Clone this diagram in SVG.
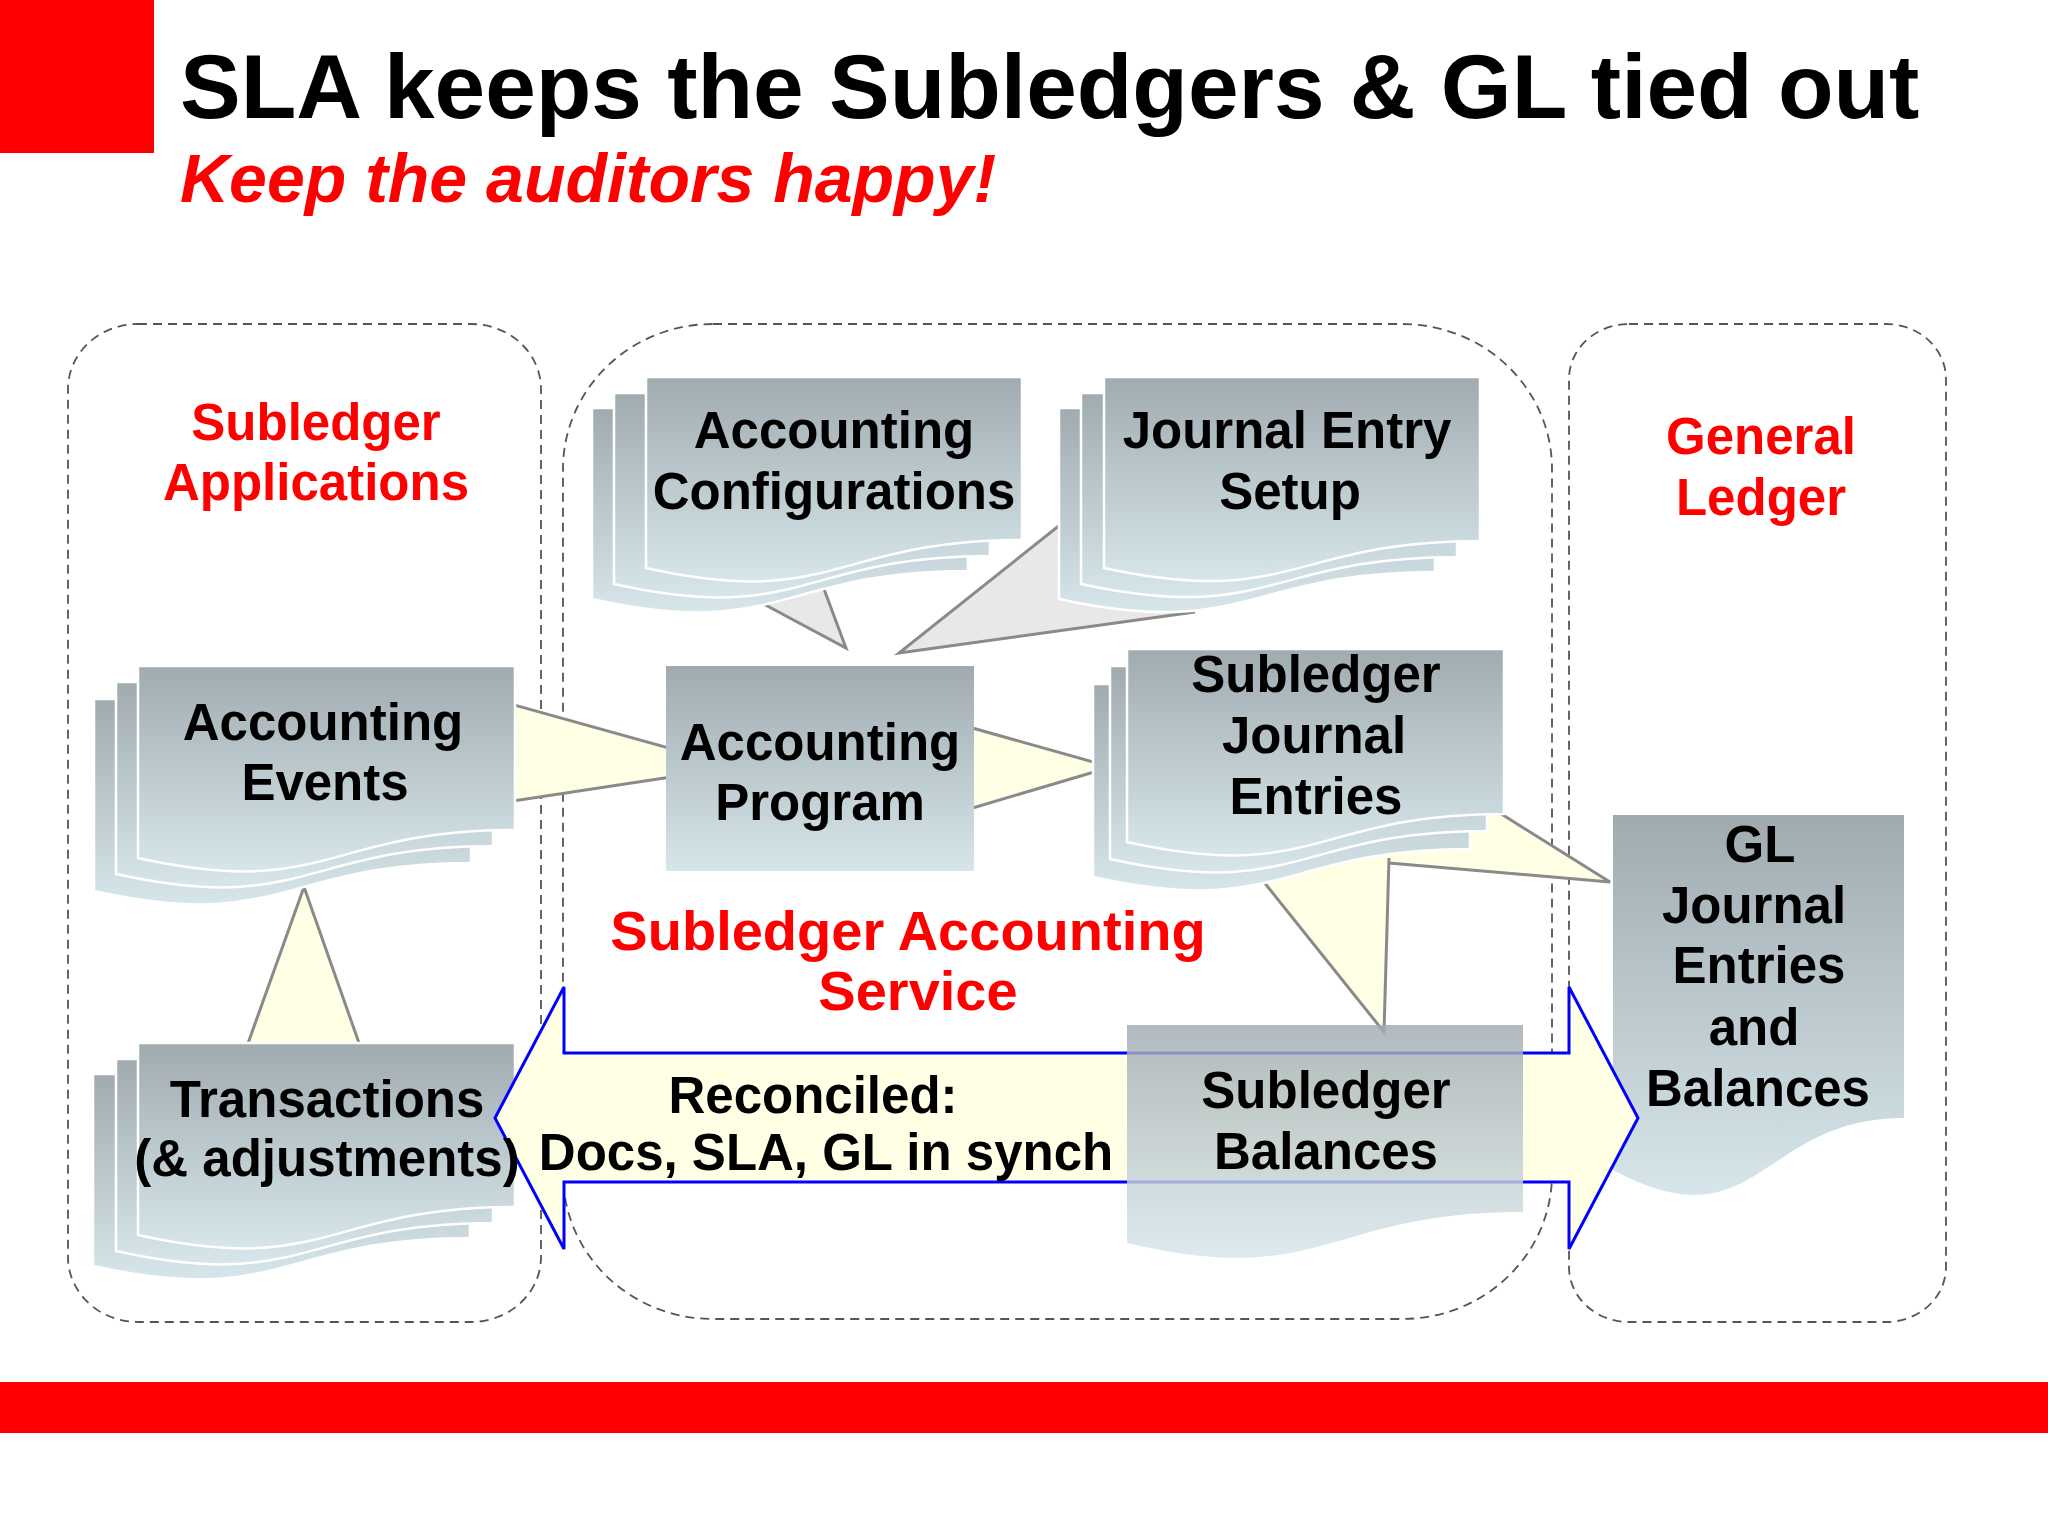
<svg xmlns="http://www.w3.org/2000/svg" width="2048" height="1536" viewBox="0 0 2048 1536">
<defs>
<linearGradient id="docGrad" x1="0" y1="0" x2="0" y2="1">
<stop offset="0" stop-color="#a0abb0"/>
<stop offset="1" stop-color="#d6e6ea"/>
</linearGradient>
<style>
.bg{fill:#ffffff}
.red{fill:#ff0000}
.title{font-family:"Liberation Sans",Arial,Helvetica,sans-serif;font-weight:bold;font-size:91px;fill:#000}
.sub{font-family:"Liberation Sans",Arial,Helvetica,sans-serif;font-weight:bold;font-style:italic;font-size:68px;fill:#ff0000}
.grp{fill:none;stroke:#555;stroke-width:1.8;stroke-dasharray:9 6}
.glab{font-family:"Liberation Sans",Arial,Helvetica,sans-serif;font-weight:bold;font-size:51px;fill:#ff0000;text-anchor:middle}
.lab{font-family:"Liberation Sans",Arial,Helvetica,sans-serif;font-weight:bold;font-size:51px;fill:#000;text-anchor:middle}
.doc{fill:url(#docGrad);stroke:#ffffff;stroke-width:2.5}
.box{fill:url(#docGrad)}
.yfill{fill:#ffffe6;stroke:none}
.gfill{fill:#e9e7ea;stroke:none}
.edge{fill:none;stroke:#8a8a8a;stroke-width:3;stroke-linejoin:miter}
.bigarrow{fill:#ffffe6;stroke:#0000ff;stroke-width:3}
</style>
</defs>
<rect class="bg" x="0" y="0" width="2048" height="1536"/>
<rect class="red" x="0" y="0" width="154" height="153"/>
<text class="title" x="180" y="118">SLA keeps the Subledgers &amp; GL tied out</text>
<text class="sub" x="180" y="202">Keep the auditors happy!</text>
<rect class="red" x="0" y="1382" width="2048" height="51"/>

<g id="groups">
<rect class="grp" x="68" y="324" width="473" height="998" rx="70" ry="65"/>
<rect class="grp" x="563" y="324" width="989" height="995" rx="150" ry="145"/>
<rect class="grp" x="1569" y="324" width="377" height="998" rx="60" ry="55"/>
<text class="glab" x="316" y="440">Subledger</text>
<text class="glab" x="316" y="500">Applications</text>
<text class="glab" x="1761" y="454">General</text>
<text class="glab" x="1761" y="515">Ledger</text>
<text class="glab" x="908" y="950" style="font-size:56px">Subledger Accounting</text>
<text class="glab" x="918" y="1010" style="font-size:56px">Service</text>
</g>

<g id="connectors">
<polygon class="yfill" points="304,887 242,1060 365,1060"/>
<polyline class="edge" points="242,1060 304,887 365,1060"/>
<polygon class="yfill" points="500,701 737,767 500,803"/>
<polyline class="edge" points="500,701 737,767 500,803"/>
<polygon class="yfill" points="960,724.5 1111,767 960,811.7"/>
<polyline class="edge" points="960,724.5 1111,767 960,811.7"/>
<polygon class="gfill" points="846,648 730,586 815,565"/>
<polyline class="edge" points="730,586 846,648 815,565"/>
<polygon class="gfill" points="899,653 1075,513 1150,500 1200,611"/>
<polyline class="edge" points="1075,513 899,653 1195,612"/>
<polygon class="yfill" points="1610,882 1480,801 1389,850 1389,863"/>
<polygon class="yfill" points="1384,1032 1255,871 1389,855"/>
<polyline class="edge" points="1495,810 1610,882 1389,863"/>
<polyline class="edge" points="1255,871 1384,1032 1389,858"/>
</g>

<g id="node-accounting-events">
<path class="doc" d="M94,699 H471 V863 C282.5,863 282.5,933 94,891 Z"/>
<path class="doc" d="M116,682 H493 V846 C304.5,846 304.5,916 116,874 Z"/>
<path class="doc" d="M138,666 H515 V830 C326.5,830 326.5,900 138,858 Z"/>
<text class="lab" x="323" y="740">Accounting</text>
<text class="lab" x="325" y="800">Events</text>
</g>

<g id="node-accounting-configurations">
<path class="doc" d="M592,408 H968 V571 C780,571 780,641 592,599 Z"/>
<path class="doc" d="M614,393 H990 V556 C802,556 802,626 614,584 Z"/>
<path class="doc" d="M646,377 H1022 V540 C834,540 834,610 646,568 Z"/>
<text class="lab" x="834" y="448">Accounting</text>
<text class="lab" x="834" y="509">Configurations</text>
</g>

<g id="node-journal-entry-setup">
<path class="doc" d="M1059,408 H1435 V572 C1247,572 1247,640 1059,599 Z"/>
<path class="doc" d="M1081,393 H1457 V557 C1269,557 1269,625 1081,584 Z"/>
<path class="doc" d="M1104,377 H1480 V541 C1292,541 1292,609 1104,568 Z"/>
<text class="lab" x="1287" y="448">Journal Entry</text>
<text class="lab" x="1290" y="509">Setup</text>
</g>

<g id="node-accounting-program">
<rect class="box" x="666" y="666" width="308" height="205"/>
<text class="lab" x="820" y="760">Accounting</text>
<text class="lab" x="820" y="820">Program</text>
</g>

<g id="node-subledger-journal-entries">
<path class="doc" d="M1093,684 H1470 V849 C1281.5,849 1281.5,919 1093,877 Z"/>
<path class="doc" d="M1110,666 H1487 V831 C1298.5,831 1298.5,901 1110,859 Z"/>
<path class="doc" d="M1127,649 H1504 V814 C1315.5,814 1315.5,884 1127,842 Z"/>
<text class="lab" x="1316" y="692">Subledger</text>
<text class="lab" x="1314" y="753">Journal</text>
<text class="lab" x="1316" y="814">Entries</text>
</g>

<g id="node-gl-journal-entries">
<path class="box" d="M1613,815 H1904 V1118 C1758.5,1118 1758.5,1248 1613,1170 Z"/>
<text class="lab" x="1760" y="862">GL</text>
<text class="lab" x="1754" y="923">Journal</text>
<text class="lab" x="1759" y="983">Entries</text>
<text class="lab" x="1754" y="1045">and</text>
<text class="lab" x="1758" y="1106">Balances</text>
</g>

<g id="node-transactions">
<path class="doc" d="M93,1074 H470 V1238 C281.5,1238 281.5,1308 93,1266 Z"/>
<path class="doc" d="M116,1059 H493 V1223 C304.5,1223 304.5,1293 116,1251 Z"/>
<path class="doc" d="M138,1043 H515 V1207 C326.5,1207 326.5,1277 138,1235 Z"/>
</g>

<g id="reconcile-arrow">
<path class="bigarrow" d="M495,1118 L564,987 L564,1053 L1569,1053 L1569,987 L1638,1118 L1569,1249 L1569,1182 L564,1182 L564,1249 Z"/>
<text class="lab" x="813" y="1113">Reconciled:</text>
<text class="lab" x="826" y="1170">Docs, SLA, GL in synch</text>
</g>

<g id="node-transactions-label">
<text class="lab" x="327" y="1117">Transactions</text>
<text class="lab" x="327" y="1176">(&amp; adjustments)</text>
</g>

<g id="node-subledger-balances">
<path class="box" style="opacity:0.82" d="M1127,1025 H1523 V1212 C1325,1212 1325,1289.5 1127,1243 Z"/>
<text class="lab" x="1326" y="1108">Subledger</text>
<text class="lab" x="1326" y="1169">Balances</text>
</g>
</svg>
